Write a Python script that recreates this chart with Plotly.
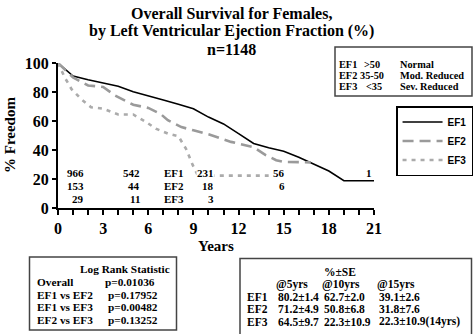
import plotly.graph_objects as go

# Kaplan-Meier style survival estimates (% freedom) by ejection fraction group
years_ef1 = [0, 1, 2, 3, 4, 5, 6, 7, 8, 9, 10, 11, 12, 13, 14, 15, 16, 17, 18, 19, 21]
surv_ef1 = [100, 91, 88.5, 86, 84, 80.2, 77.5, 74.5, 71.5, 68.4, 62.7, 58, 51.3, 44.5, 41.5,
            39.1, 35, 30.5, 25.5, 18.8, 18.8]

years_ef2 = [0, 1, 2, 3, 3.8, 4.5, 5, 6, 6.8, 7.3, 8.2, 9, 10, 11.5, 13, 13.8, 14.5, 15, 16.8]
surv_ef2 = [100, 90, 84.5, 83.5, 77.5, 74, 71.2, 69, 65, 60.5, 55.8, 53.6, 50.8, 45.6, 42,
            36.5, 33, 31.8, 31.5]

years_ef3 = [0, 0.45, 0.9, 1.55, 2.2, 3, 4, 5, 5.8, 6.5, 7.3, 8, 8.5, 8.95, 9.3, 14]
surv_ef3 = [100, 90, 82, 75, 69.5, 68.5, 64.5, 64.5, 59.7, 54.7, 51.3, 49.5, 41, 29.7, 22.3, 22.3]

# Numbers at risk
risk_years = [1.85, 5.55, 10.4, 15.25, 21]
risk_ef1 = ["966", "542", "231", "56", "1"]
risk_ef2 = ["153", "44", "18", "6", ""]
risk_ef3 = ["29", "11", "3", "", ""]
risk_rows_y = [24, 15.5, 6.5]

group_defs = [("EF1", ">50", "Normal"), ("EF2", "35-50", "Mod. Reduced"), ("EF3", "<35", "Sev. Reduced")]

logrank_rows = [("Overall", "p=0.01036"), ("EF1 vs EF2", "p=0.17952"),
                ("EF1 vs EF3", "p=0.00482"), ("EF2 vs EF3", "p=0.13252")]

se_cols = ["@5yrs", "@10yrs", "@15yrs"]
se_rows = [("EF1", "80.2±1.4", "62.7±2.0", "39.1±2.6"),
           ("EF2", "71.2±4.9", "50.8±6.8", "31.8±7.6"),
           ("EF3", "64.5±9.7", "22.3±10.9", "22.3±10.9(14yrs)")]

W, H = 474, 334
ML, MR, MT, MB = 58, 100, 63, 126
PW, PH = W - ML - MR, H - MT - MB


def px(x):
    return (x - ML) / PW


def py(y):
    return (H - MB - y) / PH


SERIF = "Liberation Serif, Times New Roman, serif"
SANS = "Liberation Sans, Arial, sans-serif"


def sfont(size):
    return dict(family=SERIF, size=size, color="black", weight="bold")


def label(text, x, y, size=11, anchor="left", xref="paper", yref="paper", angle=0, bg=None):
    if xref == "paper":
        x = px(x)
    if yref == "paper":
        y = py(y)
    a = dict(text=text, x=x, y=y, xref=xref, yref=yref, showarrow=False, xanchor=anchor,
             yanchor="middle", textangle=angle, font=sfont(size))
    if bg:
        a.update(bgcolor=bg, borderpad=0)
    return a


fig = go.Figure()
fig.add_trace(go.Scatter(x=years_ef1, y=surv_ef1, mode="lines", name="EF1",
                         line=dict(color="black", width=1.6)))
fig.add_trace(go.Scatter(x=years_ef2, y=surv_ef2, mode="lines", name="EF2",
                         line=dict(color="#9a9a9a", width=2.6, dash="11px,6px")))
fig.add_trace(go.Scatter(x=years_ef3, y=surv_ef3, mode="lines", name="EF3",
                         line=dict(color="#ababab", width=2.6, dash="4px,5px")))

ann = []
# Title
for txt, y in [("Overall Survival for Females,", 13), ("by Left Ventricular Ejection Fraction (%)", 31),
               ("n=1148", 49.5)]:
    ann.append(label(txt, 231, y, size=16, anchor="center"))

# Axis titles
ann.append(label("% Freedom", 10, 135, size=15, anchor="center", angle=-90))
ann.append(label("Years", 216, 246, size=15, anchor="center"))

# Numbers at risk (opaque labels sit on top of the curves)
for row_vals, ry in zip([risk_ef1, risk_ef2, risk_ef3], risk_rows_y):
    for xv, t in zip(risk_years, row_vals):
        if t:
            ann.append(label(t, xv, ry, anchor="right", xref="x", yref="y",
                             bg="white" if xv == 10.4 else None))
for lbl, ry in zip(["EF1", "EF2", "EF3"], risk_rows_y):
    ann.append(label(lbl, 7.7, ry, anchor="center", xref="x", yref="y"))

# Group definitions box
def_x = [[337, 362, 398], [337, 358, 398], [337, 364, 398]]
for i, row in enumerate(group_defs):
    yy = 64 + i * 11.3
    for xx, t in zip(def_x[i], row):
        ann.append(label(t, xx, yy, size=10.3))

# Log rank box
ann.append(label("Log Rank Statistic", 172, 269, size=11.3, anchor="right"))
for i, (lbl, p) in enumerate(logrank_rows):
    yy = 282 + i * 12.7
    ann.append(label(lbl, 35, yy, size=11.3))
    ann.append(label(p, 157 if i == 0 else 160, yy, size=11.3, anchor="right"))

# Survival +/- SE box
ann.append(label("%±SE", 322, 271.5, size=11.5))
col_x = [276, 322, 377]
for cx, c in zip(col_x, se_cols):
    ann.append(label(c, cx - 2, 284, size=11.5))
for i, row in enumerate(se_rows):
    yy = 296.7 + i * 12.4
    ann.append(label(row[0], 245, yy, size=11.5))
    for cx, t in zip(col_x, row[1:]):
        ann.append(label(t, cx, yy, size=11.5))

shapes = [
    dict(type="rect", xref="paper", yref="paper", x0=px(335), x1=px(472), y0=py(96), y1=py(47),
         line=dict(color="#444", width=1.5)),
    dict(type="rect", xref="paper", yref="paper", x0=px(29.5), x1=px(176.5), y0=py(330), y1=py(257),
         line=dict(color="#444", width=1.5)),
    dict(type="rect", xref="paper", yref="paper", x0=px(240), x1=px(471.5), y0=py(345), y1=py(258.5),
         line=dict(color="#444", width=1.5)),
]

fig.update_layout(
    width=W, height=H, margin=dict(l=ML, r=MR, t=MT, b=MB),
    paper_bgcolor="white", plot_bgcolor="white",
    showlegend=True,
    legend=dict(x=0.998, y=py(106), xref="container", xanchor="right", yanchor="top", bgcolor="white",
                bordercolor="black", borderwidth=1.5, itemwidth=40,
                font=dict(family=SANS, size=10, color="black", weight="bold"), tracegroupgap=0),
    annotations=ann, shapes=shapes,
    xaxis=dict(range=[0, 21], tickvals=list(range(0, 22, 3)), showgrid=False, zeroline=False,
               showline=True, linecolor="black", linewidth=2, ticks="outside", ticklen=5,
               tickwidth=1.5, tickcolor="black",
               minor=dict(tickvals=list(range(0, 22)), ticks="outside", ticklen=5, tickwidth=1.5,
                          tickcolor="black"),
               tickfont=sfont(16), fixedrange=True),
    yaxis=dict(range=[0, 100], tickvals=[0, 20, 40, 60, 80, 100], showgrid=False, zeroline=False,
               showline=True, linecolor="black", linewidth=2, ticks="outside", ticklen=4,
               tickwidth=1.5, tickcolor="black",
               tickfont=sfont(16), fixedrange=True),
)

fig.write_html("out.html")
